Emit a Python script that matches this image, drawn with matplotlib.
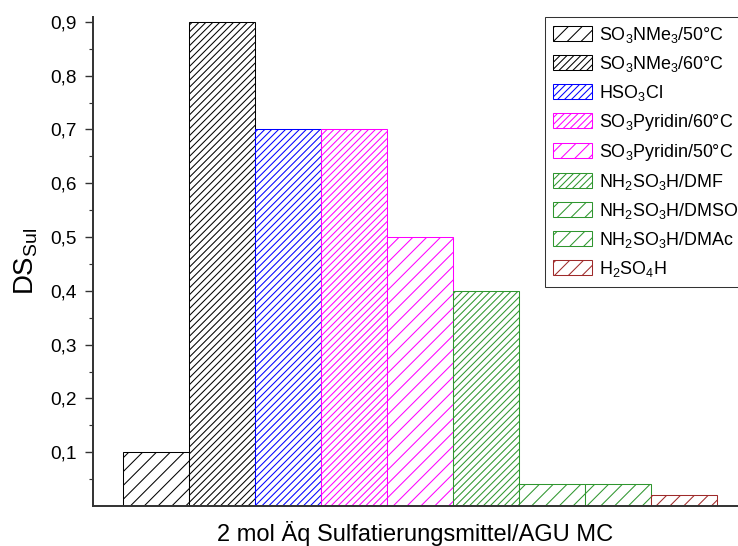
import numpy as np
import matplotlib.pyplot as plt

plt.rcParams['font.family'] = ['Liberation Sans', 'DejaVu Sans']
plt.rcParams['mathtext.fontset'] = 'custom'
plt.rcParams['mathtext.rm'] = 'Liberation Sans'
plt.rcParams['mathtext.it'] = 'Liberation Sans:italic'
plt.rcParams['hatch.linewidth'] = 0.9

labels = ['SO$_3$NMe$_3$/50°C', 'SO$_3$NMe$_3$/60°C', 'HSO$_3$Cl',
          'SO$_3$Pyridin/60°C', 'SO$_3$Pyridin/50°C', 'NH$_2$SO$_3$H/DMF',
          'NH$_2$SO$_3$H/DMSO', 'NH$_2$SO$_3$H/DMAc', 'H$_2$SO$_4$H']
ds_sul = [0.1, 0.9, 0.7, 0.7, 0.5, 0.4, 0.04, 0.04, 0.02]
colors = ['black', 'black', '#0000ff', '#ff00ff', '#ff00ff',
          '#2f962f', '#2f962f', '#2f962f', '#9e2a2a']
hatches = ['//', '////', '////', '////', '//', '////', '//', '//', '//']

dpi = 83
fig = plt.figure(figsize=(738 / dpi, 546 / dpi), dpi=dpi)
ax = fig.add_axes([93 / 738, 1 - 506 / 546, 1 - 93 / 738, (506 - 17) / 546])

x = np.arange(len(ds_sul))
for i in range(len(ds_sul)):
    ax.bar(x[i], ds_sul[i], width=1.0, facecolor='white', edgecolor=colors[i],
           hatch=hatches[i], linewidth=0.9, label=labels[i])

ax.set_xlim(-0.955, 8.82)
ax.set_ylim(0, 0.909)
ax.set_yticks(np.arange(0.1, 0.95, 0.1))
ax.set_yticklabels(['0,%d' % k for k in range(1, 10)])
ax.set_yticks(np.arange(0.05, 0.9, 0.1), minor=True)
ax.set_xticks([])
ax.tick_params(axis='y', which='major', direction='out', length=7, width=1.2,
               pad=7, labelsize=16.5, colors='#333333', labelcolor='black')
ax.tick_params(axis='y', which='minor', direction='out', length=3.5, width=1.0,
               colors='#333333')

for side in ['top', 'right']:
    ax.spines[side].set_visible(False)
for side in ['left', 'bottom']:
    ax.spines[side].set_linewidth(1.7)
    ax.spines[side].set_color('#333333')

ax.set_ylabel('DS$_{\\mathrm{Sul}}$', fontsize=24, labelpad=9)
ax.set_xlabel('2 mol Äq Sulfatierungsmittel/AGU MC', fontsize=20.5, labelpad=13)

leg = ax.legend(loc='upper left', bbox_to_anchor=(545 / 738, 1 - 17 / 546),
                bbox_transform=fig.transFigure, fontsize=15.5, frameon=True,
                fancybox=False, borderpad=0.45, handlelength=2.2,
                handleheight=0.9, handletextpad=0.4, labelspacing=0.5,
                borderaxespad=0)
leg.get_frame().set_edgecolor('black')
leg.get_frame().set_linewidth(0.9)

fig.savefig('out.png', dpi=dpi)
